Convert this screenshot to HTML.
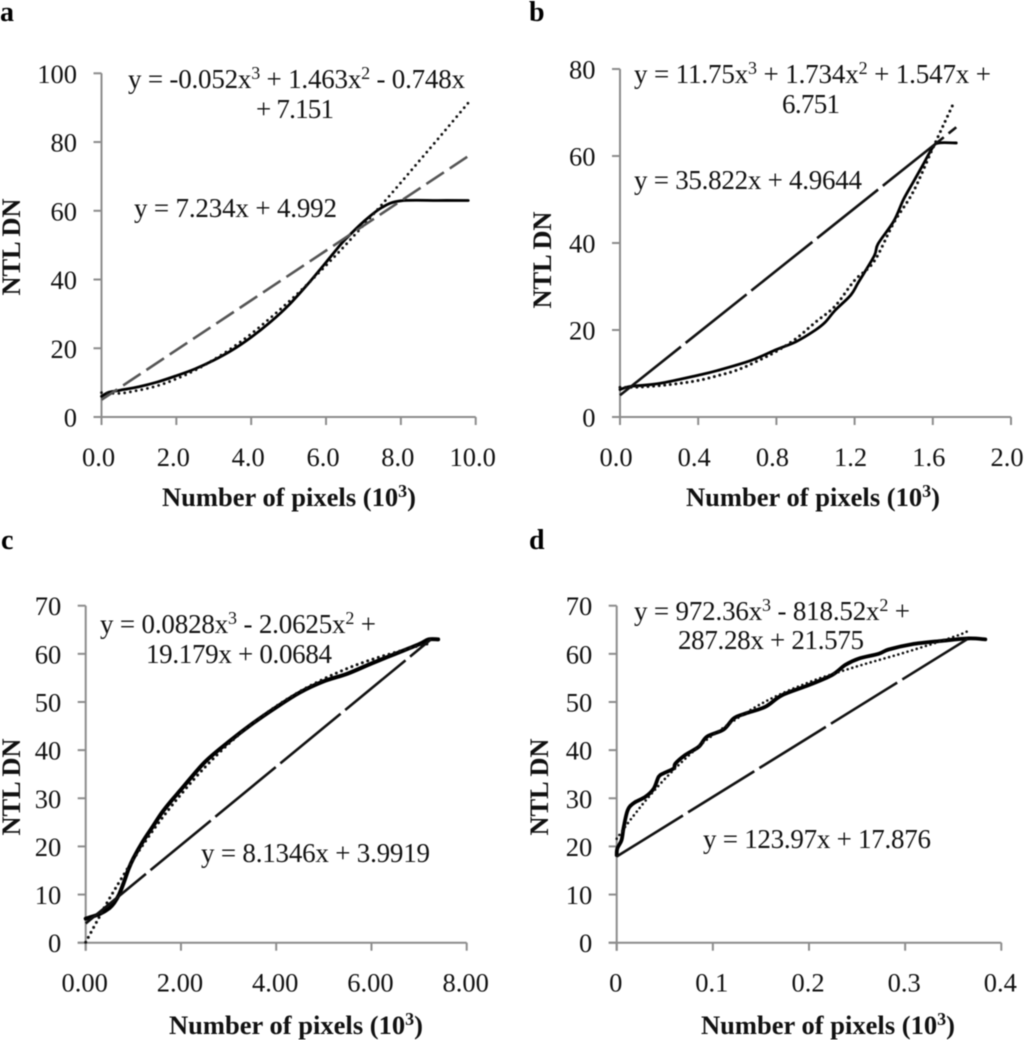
<!DOCTYPE html>
<html lang="en">
<head>
<meta charset="utf-8">
<title>NTL DN versus number of pixels</title>
<style>
html,body{margin:0;padding:0;background:#fff;}
svg{display:block;filter:blur(0.4px);}
text{font-family:"Liberation Serif","Times New Roman",serif;fill:#111;}
.tick-label{font-size:26.5px;}
.eq{font-size:27px;}
.axis-title{font-size:26.5px;font-weight:bold;}
.panel-label{font-size:28px;font-weight:bold;fill:#000;}
</style>
</head>
<body>
<svg id="figure" xmlns="http://www.w3.org/2000/svg" width="1024" height="1040" viewBox="0 0 1024 1040">
  <rect x="0" y="0" width="1024" height="1040" fill="#fff"/>

  <g id="panel-a">
    <text class="panel-label" x="0" y="21">a</text>
    <text class="axis-title" text-anchor="middle" x="289" y="506" textLength="254">Number of pixels (10<tspan font-size="18" dy="-9">3</tspan><tspan dy="9">)</tspan></text>
    <text class="axis-title" text-anchor="middle" transform="translate(20 247) rotate(-90)" textLength="97">NTL DN</text>
    <text class="eq" x="128" y="88" textLength="337">y = -0.052x<tspan font-size="18" dy="-9">3</tspan><tspan dy="9"> + 1.463x</tspan><tspan font-size="18" dy="-9">2</tspan><tspan dy="9"> - 0.748x</tspan></text>
    <text class="eq" x="256" y="118" textLength="78">+ 7.151</text>
    <text class="eq" x="134" y="217" textLength="203">y = 7.234x + 4.992</text>
  </g>

  <g id="panel-b">
    <text class="panel-label" x="529" y="21">b</text>
    <text class="axis-title" text-anchor="middle" x="813" y="506" textLength="254">Number of pixels (10<tspan font-size="18" dy="-9">3</tspan><tspan dy="9">)</tspan></text>
    <text class="axis-title" text-anchor="middle" transform="translate(551 260) rotate(-90)" textLength="97">NTL DN</text>
    <text class="eq" x="634" y="83" textLength="357">y = 11.75x<tspan font-size="18" dy="-9">3</tspan><tspan dy="9"> + 1.734x</tspan><tspan font-size="18" dy="-9">2</tspan><tspan dy="9"> + 1.547x +</tspan></text>
    <text class="eq" x="782" y="113" textLength="58">6.751</text>
    <text class="eq" x="634" y="189" textLength="228">y = 35.822x + 4.9644</text>
  </g>

  <g id="panel-c">
    <text class="panel-label" x="1" y="549">c</text>
    <text class="axis-title" text-anchor="middle" x="296" y="1034" textLength="254">Number of pixels (10<tspan font-size="18" dy="-9">3</tspan><tspan dy="9">)</tspan></text>
    <text class="axis-title" text-anchor="middle" transform="translate(20 787) rotate(-90)" textLength="97">NTL DN</text>
    <text class="eq" x="100" y="633" textLength="276">y = 0.0828x<tspan font-size="18" dy="-9">3</tspan><tspan dy="9"> - 2.0625x</tspan><tspan font-size="18" dy="-9">2</tspan><tspan dy="9"> +</tspan></text>
    <text class="eq" x="146" y="663" textLength="186">19.179x + 0.0684</text>
    <text class="eq" x="201" y="862" textLength="229">y = 8.1346x + 3.9919</text>
  </g>

  <g id="panel-d">
    <text class="panel-label" x="529" y="549">d</text>
    <text class="axis-title" text-anchor="middle" x="828" y="1034" textLength="254">Number of pixels (10<tspan font-size="18" dy="-9">3</tspan><tspan dy="9">)</tspan></text>
    <text class="axis-title" text-anchor="middle" transform="translate(548 787) rotate(-90)" textLength="97">NTL DN</text>
    <text class="eq" x="634" y="620" textLength="276">y = 972.36x<tspan font-size="18" dy="-9">3</tspan><tspan dy="9"> - 818.52x</tspan><tspan font-size="18" dy="-9">2</tspan><tspan dy="9"> +</tspan></text>
    <text class="eq" x="678" y="649" textLength="186">287.28x + 21.575</text>
    <text class="eq" x="703" y="848" textLength="228">y = 123.97x + 17.876</text>
  </g>
</svg>

<script>
// Panel a values
const aXTicks = [0, 2, 4, 6, 8, 10];
const aXTickLabels = ['0.0', '2.0', '4.0', '6.0', '8.0', '10.0'];
const aYTicks = [0, 20, 40, 60, 80, 100];
const aObservedX = [0, 0.2, 0.5, 1, 1.5, 2, 2.5, 3, 3.5, 4, 4.5, 5, 5.5, 6, 6.3, 6.5, 7, 7.5, 8, 9, 9.8];
const aObservedY = [6, 7.2, 7.8, 8.8, 10.2, 12, 14, 16.5, 19.5, 23.2, 27.5, 32.5, 38.5, 45, 49, 51.5, 56.8, 61, 62.9, 63, 63];
const aCubicX = [0, 0.5, 1, 1.5, 2, 2.5, 3, 3.5, 4, 4.5, 5, 5.5, 6, 6.5, 7, 7.5, 8, 8.5, 9, 9.8];
const aCubicY = [7.1, 6.9, 7.8, 9.1, 11.1, 13.6, 16.7, 20.2, 24.2, 28.7, 33.5, 38.6, 44.1, 49.8, 55.8, 61.9, 68.2, 74.6, 81, 91.4];
const aLinearX = [0, 9.8];
const aLinearY = [5, 75.9];

// Panel b values
const bXTicks = [0, 0.4, 0.8, 1.2, 1.6, 2];
const bXTickLabels = ['0.0', '0.4', '0.8', '1.2', '1.6', '2.0'];
const bYTicks = [0, 20, 40, 60, 80];
const bObservedX = [0, 0.05, 0.2, 0.4, 0.5, 0.67, 0.8, 0.9, 1, 1.05, 1.1, 1.18, 1.22, 1.3, 1.32, 1.4, 1.45, 1.5, 1.55, 1.6, 1.63, 1.72];
const bObservedY = [6.3, 7, 7.7, 9.6, 10.7, 13, 15.5, 17.3, 20, 21.8, 24.5, 28, 31, 37, 39.8, 45, 50, 54, 58, 62, 63, 63];
const bCubicX = [0, 0.1, 0.2, 0.3, 0.4, 0.5, 0.6, 0.7, 0.8, 0.9, 1, 1.1, 1.2, 1.3, 1.4, 1.5, 1.6, 1.71];
const bCubicY = [6.8, 6.9, 7.2, 7.7, 8.4, 9.5, 10.8, 12.8, 15.1, 18, 21.8, 25.5, 31.4, 35.8, 44.6, 51.8, 61.8, 72.5];
const bLinearX = [0, 1.72];
const bLinearY = [5, 66.6];

// Panel c values
const cXTicks = [0, 2, 4, 6, 8];
const cXTickLabels = ['0.00', '2.00', '4.00', '6.00', '8.00'];
const cYTicks = [0, 10, 20, 30, 40, 50, 60, 70];
const cObservedX = [0, 0.1, 0.3, 0.5, 0.6, 0.7, 0.8, 0.9, 1, 1.2, 1.4, 1.6, 1.8, 2, 2.5, 3, 3.5, 4, 4.5, 5, 5.5, 6, 6.5, 7, 7.2, 7.4];
const cObservedY = [5, 5.3, 6, 7.2, 8.3, 10, 12.5, 15.3, 17.5, 21, 24, 27, 29.5, 31.8, 37.5, 41.7, 45.5, 48.9, 52, 54.3, 55.9, 58, 60, 62, 63, 63];
const cCubicX = [0, 0.25, 0.5, 1, 1.5, 2, 2.5, 3, 3.5, 4, 4.5, 5, 5.5, 6, 6.5, 7, 7.25];
const cCubicY = [0.1, 4.7, 9.2, 17.3, 24.5, 30.8, 36.4, 41.3, 45.5, 49.1, 52.2, 54.8, 57, 58.8, 60.3, 61.7, 62.2];
const cLinearX = [0, 7.25];
const cLinearY = [4, 63];

// Panel d values
const dXTicks = [0, 0.1, 0.2, 0.3, 0.4];
const dXTickLabels = ['0', '0.1', '0.2', '0.3', '0.4'];
const dYTicks = [0, 10, 20, 30, 40, 50, 60, 70];
const dObservedX = [0, 0.0007, 0.005, 0.0073, 0.0114, 0.0177, 0.0298, 0.0385, 0.0437, 0.0489, 0.0593, 0.061, 0.0714, 0.0853, 0.0939, 0.1113, 0.1217, 0.1338, 0.1546, 0.1719, 0.1997, 0.2239, 0.2378, 0.2516, 0.2724, 0.2828, 0.3071, 0.3383, 0.366, 0.3834];
const dObservedY = [18.2, 19.6, 21.3, 24, 27.5, 29, 30.3, 32, 34.5, 35.2, 36.2, 37.2, 39, 40.7, 42.8, 44.3, 46.6, 47.6, 49, 51.4, 53.5, 55.6, 57.7, 59, 60, 60.9, 62, 62.7, 63.2, 63];
const dCubicX = [0, 0.01, 0.02, 0.03, 0.05, 0.075, 0.1, 0.15, 0.2, 0.25, 0.3, 0.35, 0.365];
const dCubicY = [21.6, 24.4, 27, 29.5, 34, 38.9, 43.1, 49.6, 54.1, 57.4, 60.3, 63.5, 64.7];
const dLinearX = [0, 0.365];
const dLinearY = [17.9, 63.1];

const NS = 'http://www.w3.org/2000/svg';
const AXIS_COLOR = '#8c8c8c';
const AXIS_WIDTH = '2';

function svgEl(tag) {
  return document.createElementNS(NS, tag);
}

function smoothPath(px, py) {
  let d = 'M' + px[0].toFixed(2) + ' ' + py[0].toFixed(2);
  for (let i = 0; i < px.length - 1; i++) {
    const i0 = Math.max(i - 1, 0);
    const i3 = Math.min(i + 2, px.length - 1);
    const c1x = px[i] + (px[i + 1] - px[i0]) / 6;
    const c1y = py[i] + (py[i + 1] - py[i0]) / 6;
    const c2x = px[i + 1] - (px[i3] - px[i]) / 6;
    const c2y = py[i + 1] - (py[i3] - py[i]) / 6;
    d += 'C' + c1x.toFixed(2) + ' ' + c1y.toFixed(2) + ' ' + c2x.toFixed(2) + ' ' + c2y.toFixed(2) + ' ' + px[i + 1].toFixed(2) + ' ' + py[i + 1].toFixed(2);
  }
  return d;
}

function drawPanel(id, box, xTicks, xTickLabels, yTicks, obsX, obsY, cubX, cubY, linX, linY, style) {
  const group = document.getElementById(id);
  const xMax = xTicks[xTicks.length - 1];
  const yMax = yTicks[yTicks.length - 1];
  const sx = v => box.left + (v / xMax) * (box.right - box.left);
  const sy = v => box.bottom - (v / yMax) * (box.bottom - box.top);

  // axes
  const yAxis = svgEl('line');
  
  
  yAxis.setAttribute('x1', box.left);
  yAxis.setAttribute('x2', box.left);
  yAxis.setAttribute('y1', sy(yMax));
  yAxis.setAttribute('y2', box.bottom + 8);
  yAxis.setAttribute('stroke', AXIS_COLOR);
  yAxis.setAttribute('stroke-width', AXIS_WIDTH);
  group.appendChild(yAxis);

  const xAxis = svgEl('line');
  
  
  xAxis.setAttribute('x1', box.left - 8);
  xAxis.setAttribute('x2', sx(xMax));
  xAxis.setAttribute('y1', box.bottom);
  xAxis.setAttribute('y2', box.bottom);
  xAxis.setAttribute('stroke', AXIS_COLOR);
  xAxis.setAttribute('stroke-width', AXIS_WIDTH);
  group.appendChild(xAxis);

  // y ticks and labels
  yTicks.forEach(value => {
    const tick = svgEl('line');
    
    
    tick.setAttribute('x1', box.left - 8);
    tick.setAttribute('x2', box.left);
    tick.setAttribute('y1', sy(value));
    tick.setAttribute('y2', sy(value));
    tick.setAttribute('stroke', AXIS_COLOR);
    tick.setAttribute('stroke-width', AXIS_WIDTH);
    group.appendChild(tick);

    const label = svgEl('text');
    
    
    label.setAttribute('class', 'tick-label');
    label.setAttribute('text-anchor', 'end');
    label.setAttribute('x', box.left - 24.5);
    label.setAttribute('y', sy(value) + 9.5);
    label.textContent = String(value);
    group.appendChild(label);
  });

  // x ticks and labels
  xTicks.forEach((value, i) => {
    const tick = svgEl('line');
    
    
    tick.setAttribute('x1', sx(value));
    tick.setAttribute('x2', sx(value));
    tick.setAttribute('y1', box.bottom);
    tick.setAttribute('y2', box.bottom + 8);
    tick.setAttribute('stroke', AXIS_COLOR);
    tick.setAttribute('stroke-width', AXIS_WIDTH);
    group.appendChild(tick);

    const label = svgEl('text');
    
    
    label.setAttribute('class', 'tick-label');
    label.setAttribute('text-anchor', 'middle');
    label.setAttribute('x', sx(value) + style.xLabelShift);
    label.setAttribute('y', box.bottom + 49);
    label.textContent = xTickLabels[i];
    group.appendChild(label);
  });

  // observed curve
  const observed = svgEl('path');
  
  
  observed.setAttribute('d', smoothPath(obsX.map(sx), obsY.map(sy)));
  observed.setAttribute('fill', 'none');
  observed.setAttribute('stroke', '#000');
  observed.setAttribute('stroke-width', style.solidWidth);
  observed.setAttribute('stroke-linecap', 'round');
  observed.setAttribute('stroke-linejoin', 'round');
  group.appendChild(observed);

  // cubic trendline
  const cubic = svgEl('path');
  
  
  cubic.setAttribute('d', smoothPath(cubX.map(sx), cubY.map(sy)));
  cubic.setAttribute('fill', 'none');
  cubic.setAttribute('stroke', '#111');
  cubic.setAttribute('stroke-width', style.dotWidth);
  cubic.setAttribute('stroke-linecap', 'round');
  cubic.setAttribute('stroke-dasharray', '0 ' + style.dotGap);
  group.appendChild(cubic);

  // linear trendline
  const linear = svgEl('path');
  
  
  linear.setAttribute('d', smoothPath(linX.map(sx), linY.map(sy)));
  linear.setAttribute('fill', 'none');
  linear.setAttribute('stroke', style.dashColor);
  linear.setAttribute('stroke-width', style.dashWidth);
  linear.setAttribute('stroke-dasharray', style.dash);
  linear.setAttribute('stroke-dashoffset', style.dashOffset);
  group.appendChild(linear);
}

drawPanel('panel-a', {left: 101.5, right: 475.7, top: 73.3, bottom: 417},
  aXTicks, aXTickLabels, aYTicks, aObservedX, aObservedY, aCubicX, aCubicY, aLinearX, aLinearY,
  {solidWidth: 2.8, dotWidth: 2.8, dotGap: 5.8, dashColor: '#555', dashWidth: 2.6, dash: '21 7', dashOffset: 2, xLabelShift: -3});

drawPanel('panel-b', {left: 620, right: 1011, top: 69, bottom: 417},
  bXTicks, bXTickLabels, bYTicks, bObservedX, bObservedY, bCubicX, bCubicY, bLinearX, bLinearY,
  {solidWidth: 2.8, dotWidth: 3, dotGap: 5.6, dashColor: '#111', dashWidth: 2.6, dash: '78 6', dashOffset: 0, xLabelShift: -4});

drawPanel('panel-c', {left: 85.7, right: 466.7, top: 605.7, bottom: 942.7},
  cXTicks, cXTickLabels, cYTicks, cObservedX, cObservedY, cCubicX, cCubicY, cLinearX, cLinearY,
  {solidWidth: 4, dotWidth: 3, dotGap: 5.6, dashColor: '#111', dashWidth: 2.6, dash: '78 6', dashOffset: 0, xLabelShift: -1});

drawPanel('panel-d', {left: 616.7, right: 1001.3, top: 605.7, bottom: 942.7},
  dXTicks, dXTickLabels, dYTicks, dObservedX, dObservedY, dCubicX, dCubicY, dLinearX, dLinearY,
  {solidWidth: 3.8, dotWidth: 2.6, dotGap: 4.8, dashColor: '#111', dashWidth: 2.6, dash: '78 6', dashOffset: 0, xLabelShift: -1});
</script>
</body>
</html>
